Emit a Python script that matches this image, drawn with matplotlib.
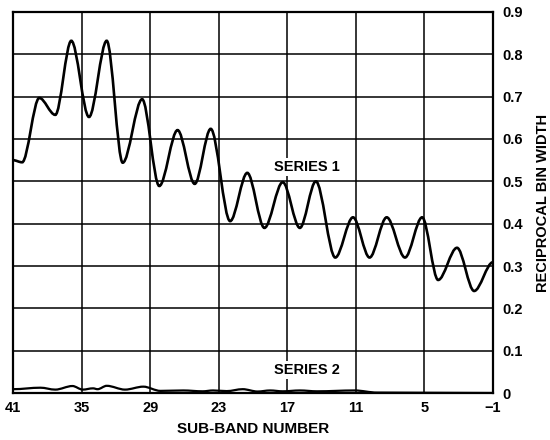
import matplotlib
matplotlib.use("Agg")
import matplotlib.pyplot as plt
import numpy as np
from matplotlib.path import Path
from matplotlib.patches import PathPatch

plt.rcParams['font.family'] = ['Liberation Sans', 'DejaVu Sans']
plt.rcParams['font.weight'] = 'bold'
plt.rcParams['axes.labelweight'] = 'bold'

# turning points of the traces (sub-band, value)
s1_band = [41.0, 40.2, 38.7, 37.3, 35.9, 34.35, 32.8, 31.4, 29.7, 28.2,
           26.6, 25.1, 23.7, 22.0, 20.5, 19.0, 17.4, 15.9, 14.5, 12.8,
           11.25, 9.8, 8.3, 6.7, 5.2, 3.8, 2.15, 0.65, -1.0]
s1_val = [0.55, 0.545, 0.697, 0.657, 0.832, 0.652, 0.832, 0.544, 0.694, 0.489,
          0.621, 0.494, 0.624, 0.406, 0.52, 0.39, 0.498, 0.39, 0.50, 0.32,
          0.415, 0.32, 0.415, 0.32, 0.415, 0.267, 0.343, 0.241, 0.309]

s2_band = [41.0, 38.6, 37.3, 35.8, 34.9, 34.0, 33.6, 32.8, 31.2, 29.6,
           28.1, 26.1, 24.4, 23.5, 22.3, 20.9, 19.6, 18.5, 17.4, 15.9,
           14.4, 11.1, 9.15, -1.0]
s2_val = [0.009, 0.0125, 0.008, 0.0165, 0.008, 0.011, 0.009, 0.017, 0.008, 0.015,
          0.005, 0.006, 0.004, 0.006, 0.0045, 0.009, 0.0035, 0.006, 0.004, 0.006,
          0.004, 0.006, 0.001, 0.0]

x_ticks = [41, 35, 29, 23, 17, 11, 5, -1]
x_labels = ['41', '35', '29', '23', '17', '11', '5', '\u22121']
y_ticks = [0, 0.1, 0.2, 0.3, 0.4, 0.5, 0.6, 0.7, 0.8, 0.9]
y_labels = ['0', '0.1', '0.2', '0.3', '0.4', '0.5', '0.6', '0.7', '0.8', '0.9']


def smooth(xs, ys):
    # cubic pieces with flat tangents at each turning point
    verts = [(xs[0], ys[0])]
    codes = [Path.MOVETO]
    for i in range(1, len(xs)):
        dx = xs[i] - xs[i - 1]
        verts += [(xs[i - 1] + dx / 3, ys[i - 1]), (xs[i] - dx / 3, ys[i]), (xs[i], ys[i])]
        codes += [Path.CURVE4] * 3
    return Path(verts, codes)


fig = plt.figure(figsize=(5.5, 4.4), dpi=100)
ax = fig.add_axes([13 / 550, 1 - 393 / 440, 480 / 550, 381 / 440])

ax.set_xlim(41, -1)
ax.set_ylim(0, 0.9)
ax.set_xticks(x_ticks)
ax.set_xticklabels(x_labels)
ax.set_yticks(y_ticks)
ax.set_yticklabels(y_labels)
ax.yaxis.tick_right()
ax.yaxis.set_label_position('right')
ax.tick_params(length=0, labelsize=10.5)
ax.tick_params(axis='x', pad=6)
ax.tick_params(axis='y', pad=7)
ax.grid(True, color='black', linewidth=1.1)
ax.set_axisbelow(True)
for sp in ax.spines.values():
    sp.set_linewidth(1.6)

ax.add_patch(PathPatch(smooth(s1_band, s1_val), facecolor='none', edgecolor='black', linewidth=1.9, zorder=3))
ax.add_patch(PathPatch(smooth(s2_band, s2_val), facecolor='none', edgecolor='black', linewidth=1.6, zorder=3))

box = dict(facecolor='white', edgecolor='none', pad=1.5)
ax.text(15.3, 0.534, 'SERIES 1', ha='center', va='center', fontsize=10.5, bbox=box, zorder=4)
ax.text(15.3, 0.054, 'SERIES 2', ha='center', va='center', fontsize=10.5, bbox=box, zorder=4)

ax.set_xlabel('SUB-BAND NUMBER', fontsize=11, labelpad=5)
ax.set_ylabel('RECIPROCAL BIN WIDTH', fontsize=10.5, labelpad=9)

fig.savefig('out.png', dpi=100)
